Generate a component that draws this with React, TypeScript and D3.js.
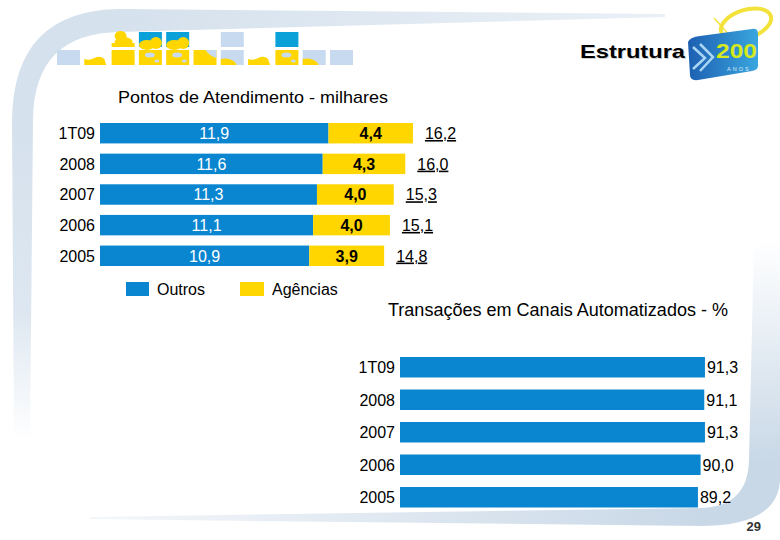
import React from "react";
import * as d3 from "d3";

// ---- data ----
const pontosCategories = ["1T09", "2008", "2007", "2006", "2005"];
const outrosValues = [11.9, 11.6, 11.3, 11.1, 10.9];
const agenciasValues = [4.4, 4.3, 4.0, 4.0, 3.9];
const totalLabels = ["16,2", "16,0", "15,3", "15,1", "14,8"];
const seriesNames = ["Outros", "Agências"];
const transCategories = ["1T09", "2008", "2007", "2006", "2005"];
const transValues = [91.3, 91.1, 91.3, 90.0, 89.2];

const titleTop = "Pontos de Atendimento - milhares";
const titleBottom = "Transações em Canais Automatizados - %";
const headerTitle = "Estrutura";
const pageNumber = "29";

const BLUE = "#0a85d0";
const YELLOW = "#ffd600";
const FRAME = "#d5e1ed";
const FONT = "'Liberation Sans', Arial, sans-serif";

const fmt = (v: number) => v.toFixed(1).replace(".", ",");

// decorative tile strip (column index, row 0=top 1=bottom, kind)
const tiles: [number, number, string][] = [
  [0, 1, "light"],
  [1, 1, "yellowLow"],
  [2, 0, "yellowBlob"],
  [2, 1, "yellow"],
  [3, 0, "blueBlob"],
  [3, 1, "yellowPatch"],
  [4, 0, "blueBlob"],
  [4, 1, "yellowPatch"],
  [5, 1, "yellowCorner"],
  [6, 0, "light"],
  [6, 1, "lightYellow"],
  [7, 1, "yellowLow"],
  [8, 0, "blue"],
  [8, 1, "yellowPatch"],
  [9, 1, "lightYellow"],
  [10, 1, "light"],
];

function Tile({ col, row, kind }: { col: number; row: number; kind: string }) {
  const x = 57 + col * 27.3;
  const y = row === 0 ? 32 : 50;
  const w = 23;
  const h = 15;
  const LB = "#c8daf0";
  const YB = "#0aa0d8";
  switch (kind) {
    case "light":
      return <rect x={x} y={y} width={w} height={h} fill={LB} />;
    case "blue":
      return <rect x={x} y={y} width={w} height={h} fill={YB} />;
    case "yellow":
      return <rect x={x} y={y} width={w} height={h} fill={YELLOW} />;
    case "yellowLow":
      return (
        <path
          d={`M${x},${y + h} L${x},${y + 9} Q${x + 5},${y + 11} ${x + 10},${y + 8} Q${x + 16},${y + 5} ${x + 20},${y + 9} L${x + 22},${y + h} Z`}
          fill={YELLOW}
        />
      );
    case "yellowBlob":
      return (
        <g fill={YELLOW}>
          <ellipse cx={x + 9} cy={y + 4} rx={6} ry={5} />
          <ellipse cx={x + 12} cy={y + 10} rx={9} ry={5} />
          <rect x={x} y={y + 11} width={w} height={4} />
        </g>
      );
    case "blueBlob":
      return (
        <g>
          <rect x={x} y={y} width={w} height={h} fill={YB} />
          <ellipse cx={x + 8} cy={y + 13} rx={8} ry={5} fill={YELLOW} />
          <ellipse cx={x + 17} cy={y + 11} rx={6} ry={6} fill={YELLOW} />
        </g>
      );
    case "yellowPatch":
      return (
        <g>
          <rect x={x} y={y} width={w} height={h} fill={YELLOW} />
          <ellipse cx={x + 11} cy={y + 5} rx={5} ry={2.5} fill={LB} />
          <ellipse cx={x + 18} cy={y + 11} rx={2.5} ry={1.5} fill={LB} />
        </g>
      );
    case "yellowCorner":
      return (
        <g>
          <rect x={x} y={y} width={w} height={h} fill={YELLOW} />
          <path d={`M${x + 12},${y} L${x + w},${y} L${x + w},${y + 8} Q${x + 16},${y + 6} ${x + 12},${y} Z`} fill={LB} />
        </g>
      );
    case "lightYellow":
      return (
        <g>
          <rect x={x} y={y} width={w} height={h} fill={LB} />
          <path d={`M${x},${y + h} L${x},${y + 9} Q${x + 8},${y + 7} ${x + 14},${y + 12} L${x + 16},${y + h} Z`} fill={YELLOW} />
        </g>
      );
    default:
      return null;
  }
}

export default function App() {
  // ---- top chart scales ----
  const xTop = d3.scaleLinear().domain([0, 20]).range([100, 484]);
  const yTop = d3
    .scaleBand<string>()
    .domain(pontosCategories)
    .range([123, 266])
    .paddingInner(1 / 3)
    .paddingOuter(0);

  // ---- bottom chart scales ----
  const xBot = d3.scaleLinear().domain([0, 100]).range([400, 734]);
  const yBot = d3
    .scaleBand<string>()
    .domain(transCategories)
    .range([357, 507.5])
    .paddingInner(0.37)
    .paddingOuter(0);

  return (
    <svg
      width={780}
      height={540}
      viewBox="0 0 780 540"
      style={{ position: "absolute", left: 0, top: 0, background: "#fff", fontFamily: FONT }}
    >
      <defs>
        <linearGradient id="gLeft" x1="0" y1="120" x2="0" y2="440" gradientUnits="userSpaceOnUse">
          <stop offset="0" stopColor={FRAME} stopOpacity={1} />
          <stop offset="0.6" stopColor={FRAME} stopOpacity={0.8} />
          <stop offset="1" stopColor={FRAME} stopOpacity={0} />
        </linearGradient>
        <linearGradient id="gTop" x1="110" y1="0" x2="665" y2="0" gradientUnits="userSpaceOnUse">
          <stop offset="0" stopColor={FRAME} stopOpacity={1} />
          <stop offset="1" stopColor={FRAME} stopOpacity={0.5} />
        </linearGradient>
        <linearGradient id="gBottom" x1="90" y1="0" x2="700" y2="0" gradientUnits="userSpaceOnUse">
          <stop offset="0" stopColor="#c9d8e7" stopOpacity={0.2} />
          <stop offset="1" stopColor="#c9d8e7" stopOpacity={1} />
        </linearGradient>
        <linearGradient id="gRight" x1="0" y1="461" x2="0" y2="240" gradientUnits="userSpaceOnUse">
          <stop offset="0" stopColor="#c9d8e7" stopOpacity={1} />
          <stop offset="1" stopColor="#c9d8e7" stopOpacity={0} />
        </linearGradient>
        <linearGradient id="gLogo" x1="688" y1="0" x2="758" y2="0" gradientUnits="userSpaceOnUse">
          <stop offset="0" stopColor="#1d5fb2" />
          <stop offset="1" stopColor="#3aa6de" />
        </linearGradient>
      </defs>

      {/* frame decoration top-left */}
      <path d="M12,121 Q13,10 120,9 L120,32 Q33,33 33,121 Z" fill={FRAME} />
      <path d="M12,120 L33,120 L30,440 L14,440 Z" fill="url(#gLeft)" />
      <path d="M119,9 L665,14 L665,17 L119,32 Z" fill="url(#gTop)" />

      {/* frame decoration bottom-right */}
      <path d="M90,517 L701,508 L701,526 L90,519 Z" fill="url(#gBottom)" />
      <path d="M700,508 Q748,507 749,460 L780,460 L780,480 Q778,526 700,526 Z" fill="#c9d8e7" />
      <path d="M749,461 L754,240 L780,240 L780,461 Z" fill="url(#gRight)" />

      {/* tile strip */}
      {tiles.map(([c, r, k], i) => (
        <Tile key={i} col={c} row={r} kind={k} />
      ))}

      {/* header */}
      <text x={581} y={59} fontSize={19} fontWeight="bold" fill="#cfcfcf" textLength={105} lengthAdjust="spacingAndGlyphs">
        {headerTitle}
      </text>
      <text x={580} y={58} fontSize={19} fontWeight="bold" fill="#000" textLength={105} lengthAdjust="spacingAndGlyphs">
        {headerTitle}
      </text>

      {/* 200 anos logo */}
      <ellipse cx={746} cy={24} rx={26} ry={14} transform="rotate(-18 746 24)" fill="none" stroke="#f3e23a" strokeWidth={4} />
      <line x1={714} y1={18} x2={732} y2={38} stroke="#f3e23a" strokeWidth={1.5} />
      <path d="M688,42 Q690,37 700,36 L752,29 Q758,28 758,34 L758,66 Q758,70 752,71 L698,80 Q690,81 690,75 Z" fill="url(#gLogo)" />
      <g fill="none" stroke="#a9d6f5" strokeWidth={2.5}>
        <polyline points="693,47 705,58 693,69" />
        <polyline points="700,44 713,57 700,71" />
      </g>
      <text x={716} y={58} fontSize={21} fontWeight="bold" fill="#d6e81e" textLength={41} lengthAdjust="spacingAndGlyphs">
        200
      </text>
      <text x={727} y={71} fontSize={5.5} fill="#d7ecfa" letterSpacing={2}>
        ANOS
      </text>

      {/* top chart */}
      <text x={118} y={103} fontSize={17} fill="#000" textLength={270} lengthAdjust="spacingAndGlyphs">
        {titleTop}
      </text>
      {pontosCategories.map((c, i) => {
        const y = yTop(c)!;
        const bw = yTop.bandwidth();
        const cy = y + bw / 2;
        const o = outrosValues[i];
        const a = agenciasValues[i];
        return (
          <g key={c}>
            <text x={95} y={cy} dy="0.36em" textAnchor="end" fontSize={16} fill="#000">
              {c}
            </text>
            <rect x={xTop(0)} y={y} width={xTop(o) - xTop(0)} height={bw} fill={BLUE} />
            <rect x={xTop(o)} y={y} width={xTop(o + a) - xTop(o)} height={bw} fill={YELLOW} />
            <text x={(xTop(0) + xTop(o)) / 2} y={cy} dy="0.36em" textAnchor="middle" fontSize={16} fill="#fff">
              {fmt(o)}
            </text>
            <text
              x={(xTop(o) + xTop(o + a)) / 2}
              y={cy}
              dy="0.36em"
              textAnchor="middle"
              fontSize={16}
              fontWeight="bold"
              fill="#000"
            >
              {fmt(a)}
            </text>
            <text
              x={xTop(o + a) + 12}
              y={cy}
              dy="0.36em"
              fontSize={16}
              fill="#000"
              style={{ textDecoration: "underline" }}
            >
              {totalLabels[i]}
            </text>
          </g>
        );
      })}

      {/* legend */}
      <rect x={126} y={282} width={23} height={14} fill={BLUE} />
      <text x={157} y={295} fontSize={16} fill="#000">
        {seriesNames[0]}
      </text>
      <rect x={240} y={282} width={24} height={14} fill={YELLOW} />
      <text x={272} y={295} fontSize={16} fill="#000">
        {seriesNames[1]}
      </text>

      {/* bottom chart */}
      <text x={388} y={316} fontSize={17.5} fill="#000" textLength={340} lengthAdjust="spacingAndGlyphs">
        {titleBottom}
      </text>
      {transCategories.map((c, i) => {
        const y = yBot(c)!;
        const bw = yBot.bandwidth();
        const cy = y + bw / 2;
        const v = transValues[i];
        return (
          <g key={c}>
            <text x={395} y={cy} dy="0.36em" textAnchor="end" fontSize={16} fill="#000">
              {c}
            </text>
            <rect x={xBot(0)} y={y} width={xBot(v) - xBot(0)} height={bw} fill={BLUE} />
            <text x={xBot(v) + 2} y={cy} dy="0.36em" fontSize={16} fill="#000">
              {fmt(v)}
            </text>
          </g>
        );
      })}

      {/* page number */}
      <text x={761} y={531} textAnchor="end" fontSize={13} fontWeight="bold" fill="#333">
        {pageNumber}
      </text>
    </svg>
  );
}
